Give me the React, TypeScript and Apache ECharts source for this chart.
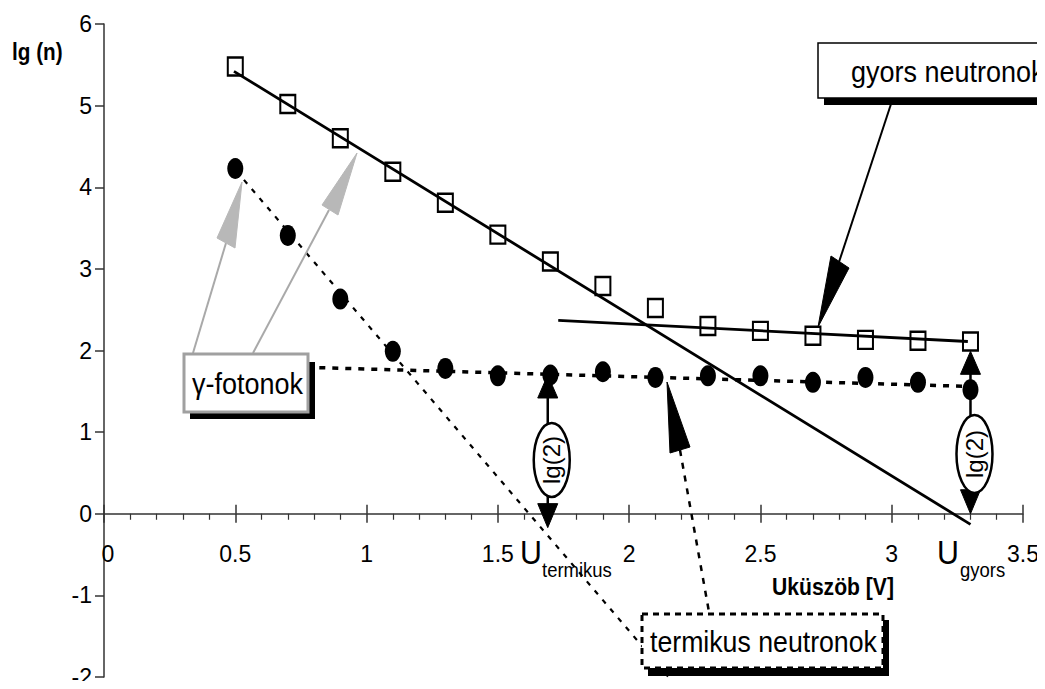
import React, { useEffect, useRef } from 'react';
import * as echarts from 'echarts';

// threshold voltage (V) of the measured points
const thresholdV = [0.5, 0.7, 0.9, 1.1, 1.3, 1.5, 1.7, 1.9, 2.1, 2.3, 2.5, 2.7, 2.9, 3.1, 3.3];
// lg(n) values – fast-neutron measurement (open squares)
const fastLg = [5.48, 5.02, 4.6, 4.19, 3.81, 3.42, 3.09, 2.79, 2.52, 2.3, 2.24, 2.18, 2.13, 2.12, 2.11];
// lg(n) values – thermal-neutron measurement (filled circles)
const thermalLg = [4.23, 3.41, 2.63, 1.99, 1.78, 1.69, 1.7, 1.74, 1.67, 1.69, 1.69, 1.61, 1.67, 1.61, 1.52];
// fitted straight lines [x, y]
const fastSteepFit = [[0.495, 5.42], [3.3, -0.13]];
const fastFlatFit = [[1.73, 2.37], [3.29, 2.11]];
const thermalSteepFit = [[0.533, 4.09], [2.15, -2.0]];
const thermalFlatFit = [[0.82, 1.79], [3.29, 1.56]];
// x-axis tick values and labels
const xTickValues = [0, 0.5, 1, 1.5, 2, 2.5, 3, 3.5];
const xTickLabels = ['0', '0.5', '1', '1.5', '2', '2.5', '3', '3.5'];
// lg(2) marker positions
const uThermal = 1.69;
const uThermalTop = 1.7;
const uThermalBottom = -0.17;
const uFast = 3.3;
const uFastTop = 1.99;
const uFastBottom = 0;

const FONT = "'Liberation Sans', Arial, Helvetica, sans-serif";

function txt(text: string, x: number, y: number, size: number, opts: any = {}) {
  return {
    type: 'text',
    x,
    y,
    z: 100,
    scaleX: opts.scaleX ?? 1,
    rotation: opts.rotation ?? 0,
    style: {
      text,
      fill: opts.fill ?? '#000',
      fontSize: size,
      fontFamily: FONT,
      fontWeight: opts.bold ? 'bold' : 'normal',
      textAlign: opts.align ?? 'left',
      align: opts.align ?? 'left',
      textVerticalAlign: 'middle',
      verticalAlign: 'middle',
    },
  };
}

function poly(points: number[][], fill: string) {
  return { type: 'polygon', z: 100, shape: { points }, style: { fill, stroke: fill, lineWidth: 1 } };
}

function seg(a: number[], b: number[], stroke: string, width: number, dash?: number[]) {
  return {
    type: 'line',
    z: 100,
    shape: { x1: a[0], y1: a[1], x2: b[0], y2: b[1] },
    style: { stroke, lineWidth: width, lineDash: dash ?? null },
  };
}

function rect(x: number, y: number, w: number, h: number, style: any) {
  return { type: 'rect', z: 100, shape: { x, y, width: w, height: h }, style };
}

export default function App() {
  const ref = useRef<HTMLDivElement>(null);

  useEffect(() => {
    if (!ref.current) return;
    const chart = echarts.init(ref.current, undefined, { renderer: 'svg' });

    const axisLabel = { color: '#000', fontSize: 23, fontFamily: FONT };
    chart.setOption({
      animation: false,
      backgroundColor: '#fff',
      grid: { left: 104, right: 22, top: 24, bottom: 12, containLabel: false, outerBoundsMode: 'none' },
      xAxis: [
        {
          type: 'value',
          min: 0,
          max: 3.5,
          interval: 0.5,
          axisLine: { show: true, onZero: true, lineStyle: { color: '#333', width: 1.5 } },
          axisTick: { show: true, length: 9, lineStyle: { color: '#333', width: 1.5 } },
          minorTick: { show: true, splitNumber: 5, length: 6, lineStyle: { color: '#333', width: 1.2 } },
          axisLabel: { show: false },
          splitLine: { show: false },
        },
        {
          type: 'value',
          position: 'top',
          min: 0,
          max: 3.5,
          interval: 0.5,
          axisLine: { show: false, onZero: true, onZeroAxisIndex: 1 },
          axisTick: { show: true, length: 9, lineStyle: { color: '#333', width: 1.5 } },
          axisLabel: { show: false },
          splitLine: { show: false },
        },
      ],
      yAxis: [
        {
          type: 'value',
          min: -2,
          max: 6,
          interval: 1,
          axisLine: { show: true, onZero: false, lineStyle: { color: '#333', width: 1.5 } },
          axisTick: { show: true, length: 9, lineStyle: { color: '#333', width: 1.5 } },
          axisLabel: { ...axisLabel, margin: 12 },
          splitLine: { show: false },
        },
        {
          type: 'value',
          min: -2,
          max: 6,
          interval: 1,
          position: 'left',
          axisLine: { show: false, onZero: false },
          axisTick: { show: false },
          axisLabel: { show: false },
          splitLine: { show: false },
        },
      ],
      series: [
        {
          type: 'line',
          data: fastSteepFit,
          symbol: 'none',
          lineStyle: { color: '#000', width: 2.8 },
          z: 3,
        },
        {
          type: 'line',
          data: fastFlatFit,
          symbol: 'none',
          lineStyle: { color: '#000', width: 2.8 },
          z: 3,
        },
        {
          type: 'line',
          data: thermalSteepFit,
          symbol: 'none',
          lineStyle: { color: '#000', width: 2.2, type: [5, 7] },
          z: 3,
        },
        {
          type: 'line',
          data: thermalFlatFit,
          symbol: 'none',
          lineStyle: { color: '#000', width: 3.5, type: [6, 7] },
          z: 3,
        },
        {
          type: 'scatter',
          data: thresholdV.map((x, i) => [x, fastLg[i]]),
          symbol: 'rect',
          symbolSize: [15, 18],
          itemStyle: { color: '#fff', borderColor: '#000', borderWidth: 2.2, opacity: 1 },
          z: 2,
        },
        {
          type: 'scatter',
          data: thresholdV.map((x, i) => [x, thermalLg[i]]),
          symbol: 'circle',
          symbolSize: [16, 21],
          itemStyle: { color: '#000', opacity: 1 },
          z: 4,
        },
      ],
    });

    const p = (x: number, y: number) =>
      chart.convertToPixel({ xAxisIndex: 0, yAxisIndex: 0 }, [x, y]) as number[];

    const lg2Marker = (xv: number, topV: number, botV: number, cy: number, ry: number) => {
      const top = p(xv, topV);
      const bot = p(xv, botV);
      const x = top[0];
      return [
        seg([x, top[1] + 10], [x, bot[1] - 10], '#000', 2.5),
        poly([[x, top[1]], [x - 10, top[1] + 23], [x + 10, top[1] + 23]], '#000'),
        poly([[x, bot[1]], [x - 10, bot[1] - 24], [x + 10, bot[1] - 24]], '#000'),
        {
          type: 'ellipse',
          z: 100,
          shape: { cx: x + 4, cy, rx: 18, ry },
          style: { fill: '#fff', stroke: '#000', lineWidth: 2.5 },
        },
        txt('lg(2)', x + 4, cy, 24, { align: 'center', rotation: Math.PI / 2 }),
      ];
    };

    const xLabels = xTickValues.map((v, i) => {
      const pt = p(v, 0);
      return txt(xTickLabels[i], pt[0] + (i === 0 ? 4 : 0), pt[1] + 40, 23, { align: 'center' });
    });

    const grey = '#a9a9a9';
    const graphic: any[] = [
      ...xLabels,

      // gyors neutronok callout
      rect(824, 49, 240, 56, { fill: '#000' }),
      rect(818, 43, 240, 55, { fill: '#fff', stroke: '#000', lineWidth: 1.5 }),
      txt('gyors neutronok', 851, 71, 30, { scaleX: 0.9 }),
      seg([891, 104], [839, 262], '#000', 2),
      poly([[818, 327], [831, 256], [849, 268]], '#000'),

      // termikus neutronok callout
      seg([680, 450], [709, 612], '#000', 2.5, [6, 7]),
      poly([[667, 382], [670, 453], [690, 447]], '#000'),
      rect(648, 668, 241, 8, { fill: '#000' }),
      rect(883, 620, 6, 56, { fill: '#000' }),
      rect(642, 614, 241, 54, { fill: '#fff', stroke: '#000', lineWidth: 3, lineDash: [6, 5] }),
      txt('termikus neutronok', 650, 641, 30, { scaleX: 0.89 }),

      // gamma photons callout
      seg([193, 353], [226, 243], grey, 2),
      poly([[242, 182], [217, 238], [235, 248]], '#b8b8b8'),
      seg([253, 353], [329, 210], grey, 2),
      poly([[357, 153], [322, 205], [338, 215]], '#b8b8b8'),
      rect(190, 412, 125, 7, { fill: '#000' }),
      rect(308, 362, 7, 57, { fill: '#000' }),
      rect(184, 354, 124, 58, { fill: '#fff', stroke: '#a0a0a0', lineWidth: 3 }),
      txt('γ-fotonok', 192, 383, 30, { scaleX: 0.9 }),

      // lg(2) markers
      ...lg2Marker(uThermal, uThermalTop, uThermalBottom, 460, 37),
      ...lg2Marker(uFast, uFastTop, uFastBottom, 454, 39),

      // U labels
      txt('U', 520, 553, 33, { scaleX: 0.92 }),
      txt('termikus', 542, 570, 21, { scaleX: 0.88 }),
      txt('U', 937, 553, 33, { scaleX: 0.92 }),
      txt('gyors', 960, 570, 21, { scaleX: 0.88 }),

      // axis titles
      txt('Uküszöb [V]', 772, 587, 24, { bold: true, scaleX: 0.88 }),
      txt('lg (n)', 12, 52, 23, { bold: true, scaleX: 0.9 }),
    ];

    chart.setOption({ graphic });

    return () => chart.dispose();
  }, []);

  return <div ref={ref} style={{ width: 1045, height: 689, margin: -8 }} />;
}
